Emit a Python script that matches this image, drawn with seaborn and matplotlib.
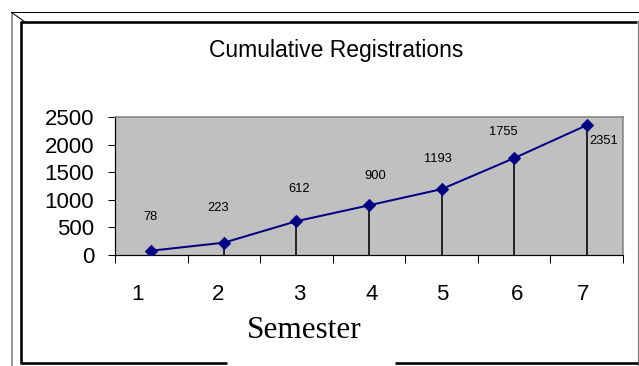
import numpy as np
import pandas as pd
import matplotlib
matplotlib.use("Agg")
import matplotlib.pyplot as plt
import matplotlib.transforms as mtransforms
from matplotlib.lines import Line2D
import seaborn as sns

# Data
semesters = ["1", "2", "3", "4", "5", "6", "7"]
registrations = [78, 223, 612, 900, 1193, 1755, 2351]
y_ticks = [0, 500, 1000, 1500, 2000, 2500]

title = "Cumulative Registrations"
x_title = "Semester"

W, H, DPI = 639, 366, 100
PT = 72.0 / DPI  # points per pixel

plt.rcParams["font.family"] = ["Liberation Sans", "DejaVu Sans"]

fig = plt.figure(figsize=(W / DPI, H / DPI), dpi=DPI)
fig.patch.set_facecolor("white")

# plot area in pixel coordinates
left, right, top, bottom = 115, 623, 117, 255
ax = fig.add_axes([left / W, 1 - bottom / H, (right - left) / W, (bottom - top) / H])
ax.set_facecolor("#C0C0C0")

df = pd.DataFrame({"pos": np.arange(len(semesters)), "registrations": registrations})

# drop lines from each point to the axis
ax.vlines(df["pos"], 0, df["registrations"], color="black", linewidth=1.6 * PT, zorder=2)

sns.lineplot(data=df, x="pos", y="registrations", ax=ax, color="#000080",
             linewidth=2.0 * PT, marker="D", markersize=8.5 * PT,
             markeredgecolor="#000080", markerfacecolor="#000080", zorder=3)

ax.set_xlim(-0.5, len(semesters) - 0.5)
ax.set_ylim(0, 2500)
ax.set_xlabel("")
ax.set_ylabel("")

# category axis: tick marks between categories, labels at the centers
ax.set_xticks(np.arange(-0.5, len(semesters), 1.0))
ax.set_xticklabels([])
ax.set_xticks(np.arange(len(semesters)), minor=True)
ax.set_xticklabels(semesters, minor=True)
ax.tick_params(axis="x", which="major", direction="out", length=8 * PT,
               width=1.0 * PT, color="black")
ax.tick_params(axis="x", which="minor", length=0, pad=21, labelsize=16)

label_shift_px = [-14, -6, 3, 3, 1, 3, -4]
for lbl, dx in zip(ax.get_xticklabels(minor=True), label_shift_px):
    lbl.set_transform(lbl.get_transform() +
                      mtransforms.ScaledTranslation(dx / DPI, 0, fig.dpi_scale_trans))

ax.set_yticks(y_ticks)
ax.set_yticklabels([str(v) for v in y_ticks])
ax.tick_params(axis="y", direction="out", length=7 * PT, width=1.0 * PT,
               color="black", pad=10, labelsize=16)

for side in ("left", "bottom"):
    ax.spines[side].set_color("black")
    ax.spines[side].set_linewidth(1.2 * PT)
for side in ("top", "right"):
    ax.spines[side].set_color("#808080")
    ax.spines[side].set_linewidth(1.5 * PT)

# value labels
label_offsets_px = [(-1, 34), (-6, 35), (3, 32), (6, 29), (-4, 30), (-11, 26), (17, -16)]
for x, v, (dx, dy) in zip(df["pos"], registrations, label_offsets_px):
    ax.annotate(str(v), (x, v), xytext=(dx * PT, dy * PT), textcoords="offset points",
                ha="center", va="center", fontsize=9.3, color="black")

fig.text(336 / W, 1 - 50 / H, title, ha="center", va="center", fontsize=16.5)
fig.text(304 / W, 1 - 330 / H, x_title, ha="center", va="center",
         fontsize=22.5, family=["Liberation Serif", "DejaVu Serif"])

# chart border
frame = fig.add_axes([0, 0, 1, 1], zorder=-1)
frame.set_xlim(0, W)
frame.set_ylim(H, 0)
frame.axis("off")
frame.patch.set_alpha(0)
segments = [
    ((11.5, 11.5), (12, H), "#808080", 1.6),
    ((11, W), (12, 12), "black", 1.0),
    ((11, 25), (12, 22), "black", 1.0),
    ((20.5, 20.5), (22, 363), "black", 2.6),
    ((20, 637), (22, 22), "black", 2.6),
    ((637.5, 637.5), (20, H), "#808080", 1.2),
    ((20, 227), (362.5, 362.5), "black", 2.6),
    ((395, 638), (362.5, 362.5), "black", 2.6),
]
for xs, ys, c, lw in segments:
    frame.add_line(Line2D(xs, ys, color=c, linewidth=lw * PT, solid_capstyle="butt"))

fig.savefig("out.png", dpi=DPI)
